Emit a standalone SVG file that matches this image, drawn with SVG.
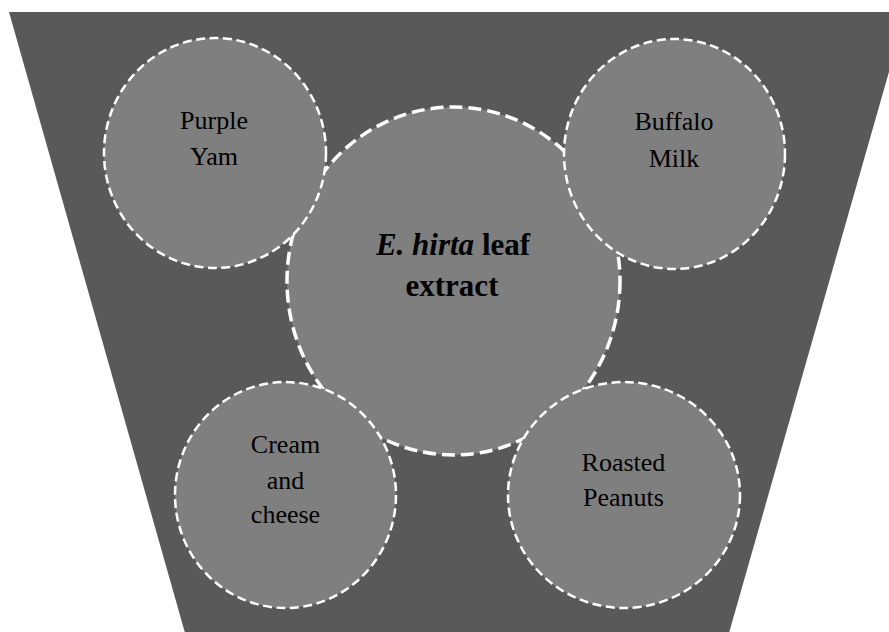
<svg xmlns="http://www.w3.org/2000/svg" width="889" height="632" viewBox="0 0 889 632">
<style>
.bg{fill:#595959}
.small{fill:#7f7f7f;stroke:#ffffff;stroke-width:2.5;stroke-dasharray:9 4.5}
.big{fill:#7f7f7f;stroke:#ffffff;stroke-width:3.5;stroke-dasharray:13 6}
.lbl{font-family:"Liberation Serif","Times New Roman",serif;font-size:26px;fill:#000;text-anchor:middle}
.ctr{font-family:"Liberation Serif","Times New Roman",serif;font-size:31px;font-weight:bold;fill:#000;text-anchor:middle}
</style>
<rect width="889" height="632" fill="#ffffff"/>
<polygon class="bg" points="9,12 906,12 727,640 187,640"/>
<g id="center">
<ellipse class="big" cx="453.5" cy="281" rx="166.5" ry="174"/>
<text class="ctr" x="453" y="255"><tspan font-style="italic">E. hirta</tspan> leaf</text>
<text class="ctr" x="452" y="296">extract</text>
</g>
<g id="purple-yam">
<ellipse class="small" cx="215" cy="153" rx="111" ry="115"/>
<text class="lbl" x="214" y="129">Purple</text>
<text class="lbl" x="214" y="165">Yam</text>
</g>
<g id="buffalo-milk">
<ellipse class="small" cx="674.5" cy="154" rx="110.5" ry="115"/>
<text class="lbl" x="674" y="130">Buffalo</text>
<text class="lbl" x="674" y="167">Milk</text>
</g>
<g id="cream-cheese">
<ellipse class="small" cx="285.5" cy="495" rx="110.5" ry="113"/>
<text class="lbl" x="285.5" y="453">Cream</text>
<text class="lbl" x="285.5" y="489">and</text>
<text class="lbl" x="285.5" y="523">cheese</text>
</g>
<g id="roasted-peanuts">
<ellipse class="small" cx="624" cy="495" rx="116" ry="113"/>
<text class="lbl" x="623.5" y="471">Roasted</text>
<text class="lbl" x="623.5" y="506">Peanuts</text>
</g>
<g id="connectors"/>
</svg>
